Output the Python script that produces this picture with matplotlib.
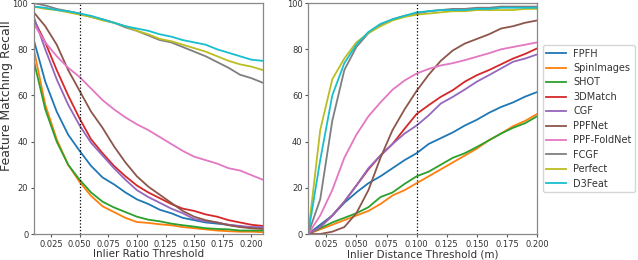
import numpy as np
import matplotlib
matplotlib.use('Agg')
import matplotlib.pyplot as plt

# method names (legend order) and default tab10 colours
methods = ['FPFH', 'SpinImages', 'SHOT', '3DMatch', 'CGF', 'PPFNet',
           'PPF-FoldNet', 'FCGF', 'Perfect', 'D3Feat']

# left panel: recall vs inlier ratio threshold
ratio_thr = [0.01, 0.02, 0.03, 0.04, 0.05, 0.06, 0.07, 0.08, 0.09, 0.10, 0.11,
             0.12, 0.13, 0.14, 0.15, 0.16, 0.17, 0.18, 0.19, 0.20, 0.21]
ratio_fpfh = [84, 66, 53, 43, 36, 29.5, 24.5, 21.5, 18, 15, 13, 10.5, 9, 7, 6, 5, 4.5, 4, 3.2, 2.8, 2.5]
ratio_spin = [80, 56, 41, 30, 22.5, 16.5, 12, 9.5, 7, 5.2, 4.8, 4.2, 3.8, 3, 2.5, 2, 1.5, 1.2, 1, 1, 0.8]
ratio_shot = [75, 54, 40, 30, 23.5, 18, 14, 11.5, 9.5, 7.5, 6.2, 5.5, 4.5, 3.8, 3.2, 2.5, 2.2, 2, 1.5, 1.5, 1.5]
ratio_3dmatch = [93, 83, 71, 60, 50, 41, 35, 29.5, 25, 21, 18, 15.5, 13, 11, 10, 8.5, 7.5, 6, 5, 4, 3.5]
ratio_cgf = [94, 80, 67, 56, 47, 39.5, 34, 28.5, 23.5, 19, 16, 13.5, 11, 9, 6.5, 5.5, 5, 4, 3.5, 3, 3]
ratio_ppfnet = [96, 90, 82, 71, 62, 53, 46, 38, 31, 25, 20.5, 17, 13.5, 10, 7.5, 6, 5, 3.8, 3, 2.5, 2.2]
ratio_foldnet = [91, 83, 77, 72, 68, 63, 58, 54, 50.5, 47.5, 45, 42, 39, 36, 33.5, 32, 30.5, 28.5, 27.5, 25.5, 23.5]
ratio_fcgf = [100, 99, 97.5, 96.5, 95.5, 94, 93, 91.5, 89.5, 88, 86, 84, 83, 81, 79, 77, 74.5, 72, 69, 67.5, 65.5]
ratio_perfect = [98.5, 97.5, 97, 96, 95, 94, 92.5, 91.5, 90, 88, 86.5, 84.5, 83.5, 82, 80.5, 79, 77, 75, 73.5, 72.5, 71]
ratio_d3feat = [98.5, 98, 97, 96.5, 95.5, 94.5, 93, 91.5, 90, 89, 88, 86.5, 85.5, 84, 83, 82, 80, 78.5, 77, 75.5, 75]

# right panel: recall vs inlier distance threshold (m)
dist_thr = [0.01, 0.02, 0.03, 0.04, 0.05, 0.06, 0.07, 0.08, 0.09, 0.10,
            0.11, 0.12, 0.13, 0.14, 0.15, 0.16, 0.17, 0.18, 0.19, 0.20]
dist_fpfh = [0, 4, 8, 13.5, 18, 22, 25, 28.5, 32, 35, 39, 41.5, 44, 47, 49.5, 52.5, 55, 57, 59.5, 61.5]
dist_spin = [0, 2, 4, 6, 8, 10, 13, 16.7, 19, 22, 25, 28, 31, 34, 37, 40.6, 43.5, 46.7, 49, 52]
dist_shot = [0, 2.5, 5, 7, 9, 11.6, 16, 18, 21.7, 25, 27, 30, 33, 35, 37.7, 40.6, 43.5, 46, 48, 51]
dist_3dmatch = [0, 3, 8, 14, 21, 28, 34, 39, 45.6, 52, 55.8, 59.4, 62.3, 66, 68.8, 71, 73.5, 76, 78, 80.4]
dist_cgf = [0, 3, 8, 14, 21, 28.5, 34, 39, 43.5, 47, 51.4, 56.5, 59.4, 62.6, 66, 68.8, 71.7, 74.6, 76, 77.8]
dist_ppfnet = [0, 0, 1, 3, 9, 19, 33, 45, 54, 62, 69, 75, 79.5, 82.5, 84.5, 86.5, 89, 90, 91.5, 92.5]
dist_foldnet = [0, 8, 19, 33, 43, 51, 57, 62.5, 66.5, 69.5, 71.5, 73, 74, 75.3, 76.8, 78.3, 80, 81, 82, 83]
dist_fcgf = [0, 15, 49, 71, 81, 87, 90.5, 93, 94.5, 95.5, 96.5, 97, 97.5, 97.5, 98, 98, 98.5, 98.5, 98.5, 98.5]
dist_perfect = [0, 45, 67, 76, 83, 87, 90, 92.5, 94, 95, 95.5, 96, 96.5, 96.5, 97, 97, 97, 97, 97.5, 97.5]
dist_d3feat = [0, 32, 60, 74, 82, 87.5, 91, 93, 94.5, 96, 96.5, 97, 97, 97, 97.5, 97.5, 98, 98, 98, 98]

ratio_curves = [ratio_fpfh, ratio_spin, ratio_shot, ratio_3dmatch, ratio_cgf,
                ratio_ppfnet, ratio_foldnet, ratio_fcgf, ratio_perfect, ratio_d3feat]
dist_curves = [dist_fpfh, dist_spin, dist_shot, dist_3dmatch, dist_cgf,
               dist_ppfnet, dist_foldnet, dist_fcgf, dist_perfect, dist_d3feat]

fig = plt.figure(figsize=(6.38, 2.6), dpi=100)
axL = fig.add_axes([0.053, 0.1, 0.359, 0.888])
axR = fig.add_axes([0.483, 0.1, 0.359, 0.888])

for name, yL, yR in zip(methods, ratio_curves, dist_curves):
    axL.plot(ratio_thr, yL, lw=1.3, label=name)
    axR.plot(dist_thr, yR, lw=1.3, label=name)

axL.axvline(0.05, color='k', ls=':', lw=0.9)
axR.axvline(0.10, color='k', ls=':', lw=0.9)

axL.set_xlim(0.01, 0.21)
axR.set_xlim(0.01, 0.20)
for ax in (axL, axR):
    ax.set_ylim(0, 100)
    ax.set_xticks([0.025, 0.05, 0.075, 0.1, 0.125, 0.15, 0.175, 0.2])
    ax.set_yticks([0, 20, 40, 60, 80, 100])
    ax.tick_params(labelsize=6, colors='#555555', labelcolor='#333333',
                   length=2.5, width=0.8, pad=1.5)
    for sp in ax.spines.values():
        sp.set_color('#888888')
        sp.set_linewidth(0.9)

axL.set_xlabel('Inlier Ratio Threshold', fontsize=7.5, color='#333333', labelpad=0.5)
axR.set_xlabel('Inlier Distance Threshold (m)', fontsize=7.5, color='#333333', labelpad=0.5)
axL.set_ylabel('Feature Matching Recall', fontsize=9, color='#333333')
axL.yaxis.set_label_coords(-0.092, 0.6)

leg = axR.legend(loc='upper left', bbox_to_anchor=(1.025, 0.818), fontsize=7,
                 frameon=True, handlelength=2.06, labelspacing=0.46,
                 borderpad=0.35, handletextpad=0.72, borderaxespad=0)
leg.get_frame().set_edgecolor('#cccccc')
for t in leg.get_texts():
    t.set_color('#333333')

fig.savefig('out.png', dpi=100)
